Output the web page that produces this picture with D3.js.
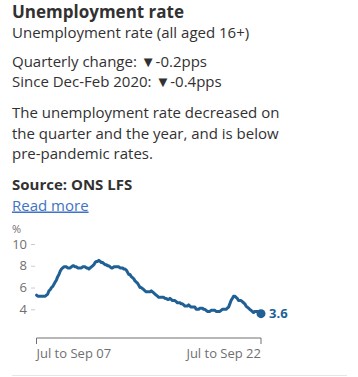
<!DOCTYPE html>
<html><head><meta charset="utf-8">
<script src="https://cdn.jsdelivr.net/npm/d3@7"></script>
<style>
html,body{margin:0;padding:0;background:#fff;}
svg{display:block;}
</style></head>
<body>
<script>
// Data: UK unemployment rate (%), rolling 3-month periods, Jul-Sep 2007 .. Jul-Sep 2022
const startLabel = "Jul to Sep 07";
const endLabel = "Jul to Sep 22";
const values2007 = [5.3, 5.2, 5.2, 5.2];
const values2008 = [5.2, 5.2, 5.2, 5.2, 5.3, 5.4, 5.7, 5.8, 6.0, 6.1, 6.3, 6.5];
const values2009 = [6.7, 7.0, 7.2, 7.5, 7.7, 7.8, 7.9, 7.9, 7.9, 7.8, 7.8, 7.8];
const values2010 = [7.9, 8.0, 8.0, 7.9, 7.9, 7.8, 7.8, 7.8, 7.8, 7.9, 7.9, 7.9];
const values2011 = [7.8, 7.8, 7.7, 7.8, 7.9, 8.0, 8.1, 8.3, 8.4, 8.4, 8.5, 8.4];
const values2012 = [8.3, 8.3, 8.2, 8.1, 8.1, 8.0, 8.0, 7.9, 7.8, 7.8, 7.9, 7.9];
const values2013 = [7.9, 7.9, 7.9, 7.8, 7.8, 7.8, 7.7, 7.7, 7.6, 7.4, 7.2, 7.2];
const values2014 = [7.0, 6.9, 6.8, 6.6, 6.5, 6.4, 6.2, 6.0, 6.0, 5.9, 5.8, 5.7];
const values2015 = [5.6, 5.6, 5.6, 5.6, 5.7, 5.6, 5.5, 5.4, 5.3, 5.2, 5.1, 5.1];
const values2016 = [5.1, 5.1, 5.1, 5.0, 5.0, 4.9, 4.9, 5.0, 4.9, 4.8, 4.8, 4.8];
const values2017 = [4.7, 4.6, 4.6, 4.6, 4.5, 4.5, 4.4, 4.3, 4.3, 4.3, 4.4, 4.3];
const values2018 = [4.2, 4.2, 4.2, 4.2, 4.0, 4.0, 4.0, 4.1, 4.1, 4.1, 4.0, 4.0];
const values2019 = [3.9, 3.8, 3.8, 3.8, 3.9, 3.9, 3.9, 3.9, 3.8, 3.8, 3.8, 3.8];
const values2020 = [3.9, 4.0, 4.0, 4.0, 4.0, 4.1, 4.2, 4.5, 4.8, 5.0, 5.2, 5.2];
const values2021 = [5.1, 5.0, 4.8, 4.8, 4.8, 4.7, 4.6, 4.5, 4.3, 4.2, 4.1, 4.0];
const values2022 = [3.9, 3.8, 3.7, 3.8, 3.8, 3.8, 3.8, 3.7, 3.6];
const yTicks = [4, 6, 8, 10];
const latestLabel = "3.6";

const values = [].concat(values2007, values2008, values2009, values2010, values2011,
  values2012, values2013, values2014, values2015, values2016, values2017, values2018,
  values2019, values2020, values2021, values2022);

const W = 358, H = 377;
const FONT = "'Open Sans', sans-serif";
const TEXT = "#323132";
const BLUE = "#206095";
const GREY = "#707070";
const BODY = 15;

const svg = d3.select("body").append("svg").attr("width", W).attr("height", H)
  .style("font-family", FONT);

// Header text
svg.append("text").attr("x", 12).attr("y", 18).attr("font-size", 17).attr("font-weight", 700)
  .attr("fill", TEXT).text("Unemployment rate");
svg.append("text").attr("x", 12).attr("y", 38).attr("font-size", BODY).attr("fill", TEXT)
  .text("Unemployment rate (all aged 16+)");
svg.append("text").attr("x", 12).attr("y", 67).attr("font-size", BODY).attr("fill", TEXT)
  .text("Quarterly change: \u25BC-0.2pps");
svg.append("text").attr("x", 12).attr("y", 87).attr("font-size", BODY).attr("fill", TEXT)
  .text("Since Dec-Feb 2020: \u25BC-0.4pps");
const para = ["The unemployment rate decreased on", "the quarter and the year, and is below", "pre-pandemic rates."];
para.forEach((t, i) => {
  svg.append("text").attr("x", 12).attr("y", 118 + i * 20.5).attr("font-size", BODY).attr("fill", TEXT).text(t);
});
svg.append("text").attr("x", 12).attr("y", 190).attr("font-size", BODY).attr("font-weight", 700)
  .attr("fill", TEXT).text("Source: ONS LFS");
svg.append("text").attr("x", 12).attr("y", 210.5).attr("font-size", BODY)
  .attr("fill", "#4173c4").attr("text-decoration", "underline").text("Read more");

// Chart
const x = d3.scaleLinear().domain([0, values.length - 1]).range([36.5, 261]);
const y = d3.scaleLinear().domain([0, 10]).range([352.8, 244]);

svg.append("text").attr("x", 12).attr("y", 233).attr("font-size", 11).attr("fill", GREY).text("%");

const yAxis = d3.axisLeft(y).tickValues(yTicks).tickSize(4).tickPadding(4);
const gy = svg.append("g").attr("transform", "translate(35,0)").call(yAxis);
gy.select(".domain").remove();
gy.selectAll(".tick line").attr("stroke", "#cccccc");
gy.selectAll(".tick text").attr("fill", GREY).attr("font-size", 13).attr("font-family", FONT);

// x axis
const xAxis = d3.axisBottom(x).tickValues([0, values.length - 1]).tickSize(6).tickFormat(() => "");
const gx = svg.append("g").attr("transform", "translate(0,338)").call(xAxis);
gx.select(".domain").attr("stroke", "#707070").attr("d", `M${x(0)},6V0H${x(values.length - 1)}V6`);
gx.selectAll(".tick line").remove();
svg.append("text").attr("x", x(0)).attr("y", 357.5).attr("font-size", 13).attr("fill", GREY).text(startLabel);
svg.append("text").attr("x", x(values.length - 1)).attr("y", 357.5).attr("text-anchor", "end")
  .attr("font-size", 13).attr("fill", GREY).text(endLabel);

// line
const line = d3.line().x((d, i) => x(i)).y(d => y(d)).curve(d3.curveLinear);
svg.append("path").datum(values).attr("d", line).attr("fill", "none").attr("stroke", BLUE)
  .attr("stroke-width", 3).attr("stroke-linejoin", "round").attr("stroke-linecap", "round");

const last = values.length - 1;
svg.append("circle").attr("cx", x(last)).attr("cy", y(values[last])).attr("r", 4.5).attr("fill", BLUE);
svg.append("text").attr("x", x(last) + 8).attr("y", y(values[last]) + 4.5).attr("font-size", 13)
  .attr("font-weight", 700).attr("fill", BLUE).text(latestLabel);

// bottom divider
svg.append("line").attr("x1", 12).attr("x2", 347).attr("y1", 375.5).attr("y2", 375.5)
  .attr("stroke", "#e6e6e6").attr("stroke-width", 1);
</script>
</body></html>
